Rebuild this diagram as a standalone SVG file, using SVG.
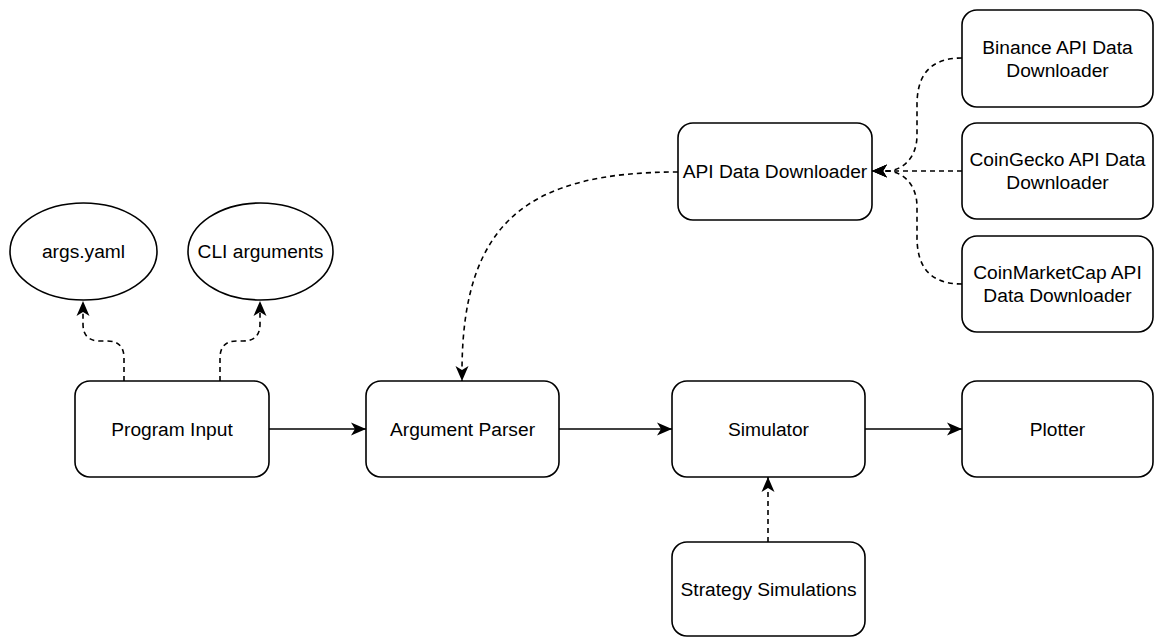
<svg xmlns="http://www.w3.org/2000/svg" width="1154" height="637" viewBox="0 0 1154 637">
<style>
.box{fill:#fff;stroke:#000;stroke-width:1.6}
.lbl{font-family:"Liberation Sans",Arial,sans-serif;font-size:19.2px;fill:#000;text-anchor:middle;dominant-baseline:central}
.edge{fill:none;stroke:#000;stroke-width:1.6}
.dash{stroke-dasharray:5 4}
</style>
<defs>
<marker id="arr" markerUnits="userSpaceOnUse" markerWidth="16" markerHeight="14" refX="15" refY="7" orient="auto">
<path d="M15,7 L0,0.5 L4,7 L0,13.5 Z" fill="#000"/>
</marker>
</defs>
<rect width="1154" height="637" fill="#fff"/>
<g id="connectors">
<path class="edge dash" d="M124,381 L124,358 Q124,341 107,341 L100,341 Q83,341 83,324 L83,301" marker-end="url(#arr)"/>
<path class="edge dash" d="M220,381 L220,358 Q220,341 237,341 L243,341 Q260,341 260,324 L260,301" marker-end="url(#arr)"/>
<path class="edge" d="M269,429 L366,429" marker-end="url(#arr)"/>
<path class="edge" d="M559,429 L672,429" marker-end="url(#arr)"/>
<path class="edge" d="M865,429 L962,429" marker-end="url(#arr)"/>
<path class="edge dash" d="M768,542 L768,477" marker-end="url(#arr)"/>
<path class="edge dash" d="M678,172 C530,172 462,220 462,372 L462,381" marker-end="url(#arr)"/>
<path class="edge dash" d="M962,171 L872,171" marker-end="url(#arr)"/>
<path class="edge dash" d="M962,58 C930,58 917,75 917,105 L917,135 C917,160 900,171 887,171 L872,171" marker-end="url(#arr)"/>
<path class="edge dash" d="M962,284 C930,284 917,267 917,237 L917,207 C917,182 900,171 887,171 L872,171" marker-end="url(#arr)"/>
</g>
<g id="args-yaml"><ellipse class="box" cx="83.5" cy="251.5" rx="73.5" ry="48.5"/><text class="lbl" x="83.5" y="251.5">args.yaml</text></g>
<g id="cli-arguments"><ellipse class="box" cx="260.5" cy="251.5" rx="72.5" ry="48.5"/><text class="lbl" x="260.5" y="251.5">CLI arguments</text></g>
<g id="program-input"><rect class="box" x="75" y="381" width="194" height="96" rx="15"/><text class="lbl" x="172" y="429">Program Input</text></g>
<g id="argument-parser"><rect class="box" x="366" y="381" width="193" height="96" rx="15"/><text class="lbl" x="462.5" y="429">Argument Parser</text></g>
<g id="simulator"><rect class="box" x="672" y="381" width="193" height="96" rx="15"/><text class="lbl" x="768.5" y="429">Simulator</text></g>
<g id="plotter"><rect class="box" x="962" y="381" width="191" height="96" rx="15"/><text class="lbl" x="1057.5" y="429">Plotter</text></g>
<g id="strategy-simulations"><rect class="box" x="672" y="542" width="193" height="94" rx="15"/><text class="lbl" x="768.5" y="589">Strategy Simulations</text></g>
<g id="api-data-downloader"><rect class="box" x="678" y="123" width="194" height="97" rx="15"/><text class="lbl" x="775" y="171.5">API Data Downloader</text></g>
<g id="binance"><rect class="box" x="962" y="10" width="191" height="97" rx="15"/><text class="lbl" x="1057.5" y="47">Binance API Data</text><text class="lbl" x="1057.5" y="70">Downloader</text></g>
<g id="coingecko"><rect class="box" x="962" y="123" width="191" height="96" rx="15"/><text class="lbl" x="1057.5" y="159.5">CoinGecko API Data</text><text class="lbl" x="1057.5" y="182.5">Downloader</text></g>
<g id="coinmarketcap"><rect class="box" x="962" y="236" width="191" height="96" rx="15"/><text class="lbl" x="1057.5" y="272.5">CoinMarketCap API</text><text class="lbl" x="1057.5" y="295.5">Data Downloader</text></g>
</svg>
